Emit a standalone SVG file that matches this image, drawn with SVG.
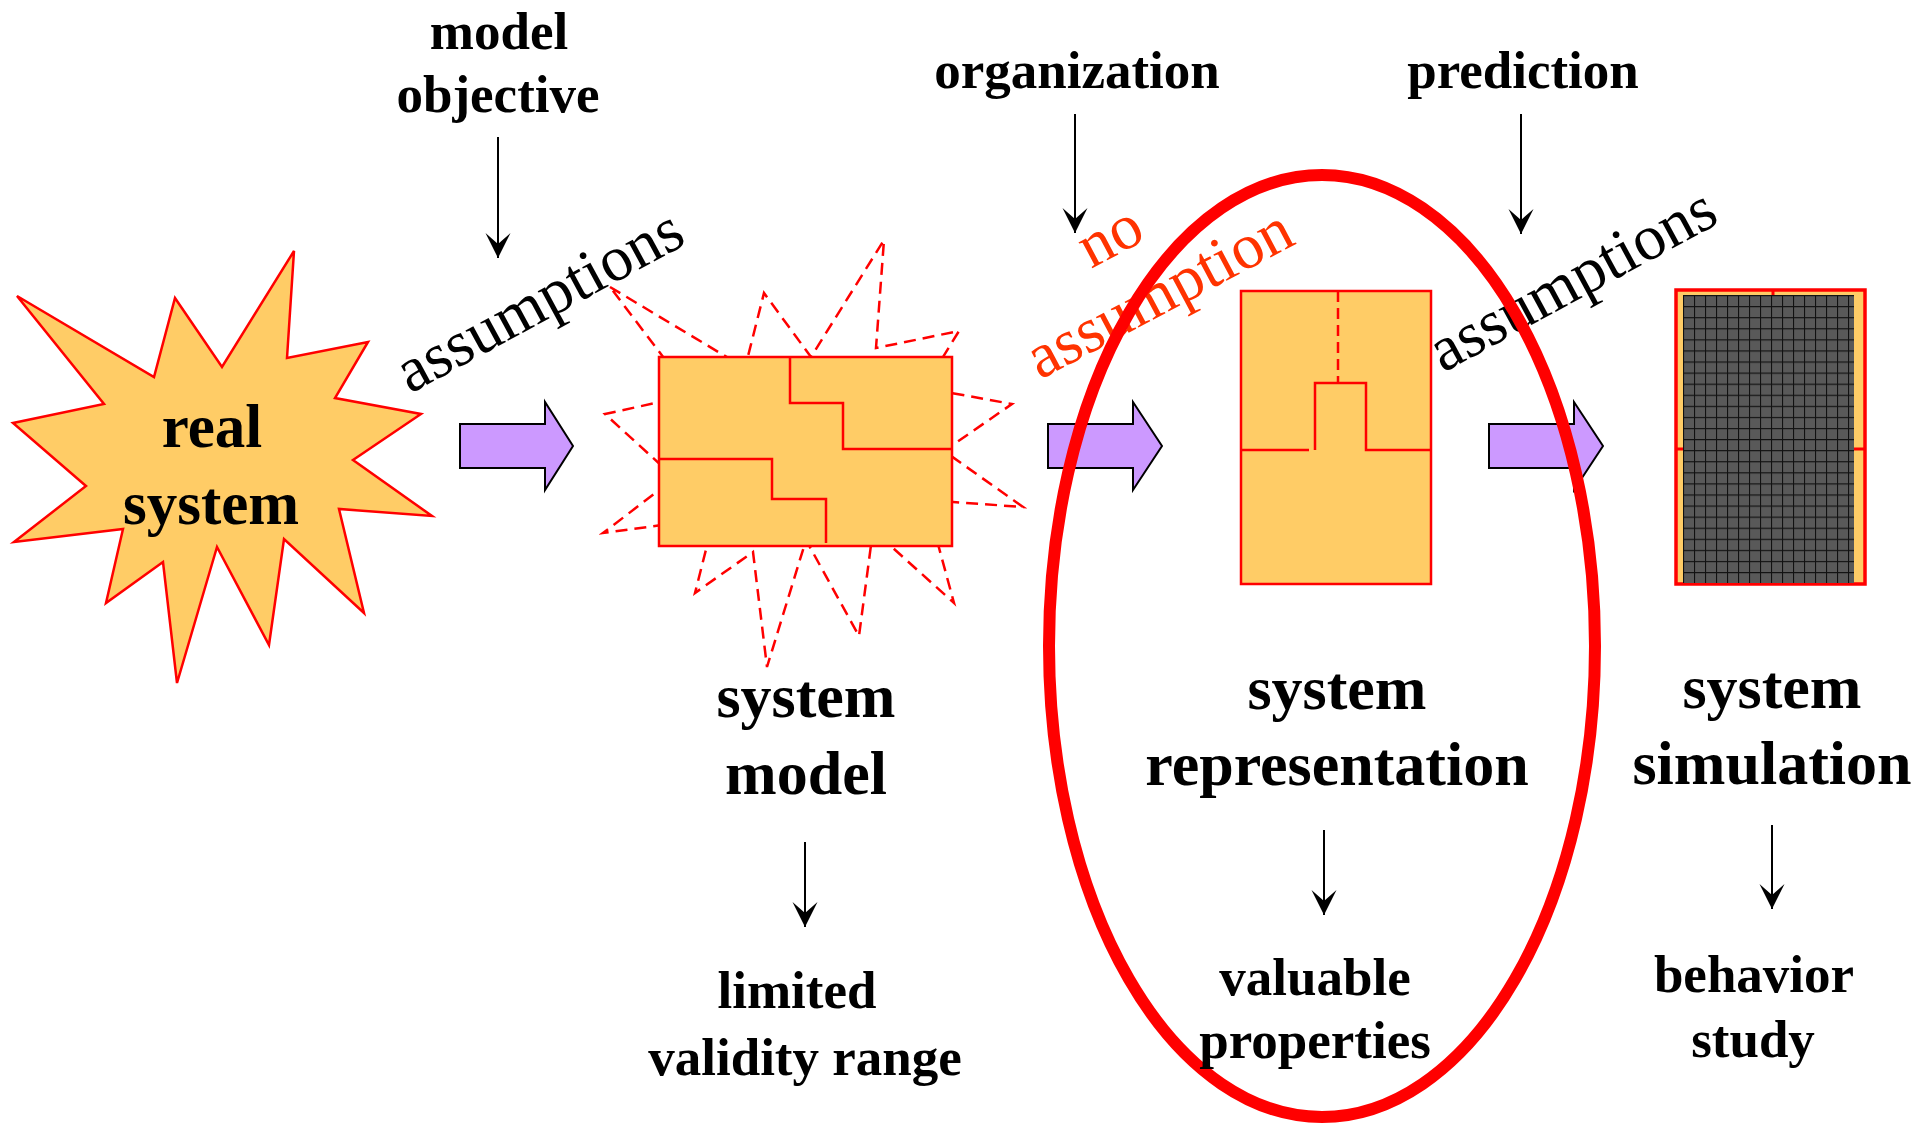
<svg xmlns="http://www.w3.org/2000/svg" width="1919" height="1125" viewBox="0 0 1919 1125">
<defs>
<style>
.b{font-family:"Liberation Serif","Times New Roman",serif;font-weight:bold;fill:#000;text-anchor:middle}
.big{font-size:62px}
.sm{font-size:53px}
.rot{font-family:"Liberation Serif","Times New Roman",serif;font-size:64px;fill:#000}
.red{fill:#FF3300}
.shape{fill:#FFCC66;stroke:#FF0000;stroke-width:2.5}
.ln{fill:none;stroke:#FF0000;stroke-width:2.5}
.dash{fill:none;stroke:#FF0000;stroke-width:2.5;stroke-dasharray:12 7}
.thin{stroke:#000;stroke-width:2;fill:none}
.fat{fill:#CC99FF;stroke:#000;stroke-width:2}
</style>
<marker id="ah" viewBox="0 -13 26 26" refX="25" refY="0" markerWidth="26" markerHeight="26" markerUnits="userSpaceOnUse" orient="auto">
<path d="M0,-12.5 L25,0 L0,12.5 L11,0 Z" fill="#000"/>
</marker>
<pattern id="grid" x="1683" y="295" width="11" height="11.08" patternUnits="userSpaceOnUse">
<rect width="11" height="11.08" fill="#595959"/>
<path d="M0.5,0V11.08M0,0.5H11" stroke="#111" stroke-width="1.2"/>
</pattern>
</defs>
<rect width="1919" height="1125" fill="#fff"/>

<g id="real-system">
<polygon class="shape" points="17,296 154,377 175,298 222,367 294,251 287,358 368,342 335,398 421,414 353,460 432,516 339,509 364,613 284,539 269,645 217,547 177,683 163,562 106,603 123,529 14,542 86,486 13,423 104,404"/>
<text class="b" style="font-size:61px" x="212" y="447">real</text>
<text class="b" style="font-size:61px" x="211" y="524">system</text>
</g>

<g id="system-model">
<polygon class="dash" points="610,287 745,368 764,293 811,357 884,240 876,348 959,331 924,388 1012,404 944,451 1023,507 926,500 954,603 873,530 859,636 806,540 767,667 753,552 695,593 714,518 603,533 675,478 605,414 692,395"/>
<rect class="shape" x="659" y="357" width="293" height="189"/>
<path class="ln" d="M790,357V403H843V449H952M659,459H772V499H826V543"/>
<text class="b big" x="806" y="717">system</text>
<text class="b big" x="806" y="794">model</text>
<text class="b sm" x="797" y="1008">limited</text>
<text class="b sm" x="805" y="1075">validity range</text>
</g>

<g id="system-representation">
<rect class="shape" x="1241" y="291" width="190" height="293"/>
<path class="ln" d="M1315,450V383H1366V450H1431M1241,450H1309"/>
<path class="dash" d="M1338,291V383" style="stroke-dasharray:11 6"/>
<text class="b big" x="1337" y="709">system</text>
<text class="b big" x="1337" y="785">representation</text>
</g>

<g id="system-simulation">
<rect class="shape" x="1676" y="290" width="189" height="294" style="stroke-width:3.5"/>
<rect x="1683" y="295" width="171" height="288" fill="url(#grid)"/>
<path class="ln" d="M1773,290V295M1676,449H1683M1854,449H1866" style="stroke-width:3"/>
<text class="b big" x="1772" y="708">system</text>
<text class="b big" x="1772" y="784">simulation</text>
<text class="b sm" x="1754" y="992">behavior</text>
<text class="b sm" x="1753" y="1057">study</text>
</g>

<g id="labels">
<text class="b sm" x="499" y="49">model</text>
<text class="b sm" x="498" y="112">objective</text>
<text class="b sm" x="1077" y="88">organization</text>
<text class="b sm" x="1523" y="88">prediction</text>
<text class="rot" transform="translate(410,394) rotate(-28.5)">assumptions</text>
<text class="rot" transform="translate(1443,373) rotate(-28.5)">assumptions</text>
<text class="rot red" transform="translate(1091,269) rotate(-28)">no</text>
<text class="rot red" transform="translate(1040,380) rotate(-28)">assumption</text>
</g>

<g id="connectors">
<path class="thin" d="M498,137V258" marker-end="url(#ah)"/>
<path class="thin" d="M1075,114V233" marker-end="url(#ah)"/>
<path class="thin" d="M1521,114V234" marker-end="url(#ah)"/>
<path class="thin" d="M805,842V927" marker-end="url(#ah)"/>
<path class="thin" d="M1324,830V915" marker-end="url(#ah)"/>
<path class="thin" d="M1772,825V909" marker-end="url(#ah)"/>
<polygon class="fat" points="460,424 545,424 545,402 573,446 545,490 545,468 460,468"/>
<polygon class="fat" points="1048,424 1133,424 1133,402 1162,446 1133,490 1133,468 1048,468"/>
<polygon class="fat" points="1489,424 1574,424 1574,402 1603,446 1574,490 1574,468 1489,468"/>
</g>

<g id="focus-ellipse">
<ellipse cx="1322" cy="646" rx="273" ry="471" fill="none" stroke="#FF0000" stroke-width="12"/>
</g>

<g id="focus-labels">
<text class="b sm" x="1315" y="995">valuable</text>
<text class="b sm" x="1315" y="1058">properties</text>
</g>
</svg>
